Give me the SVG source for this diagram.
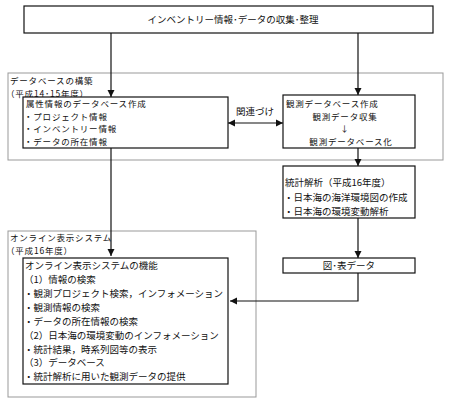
<svg xmlns="http://www.w3.org/2000/svg" width="450" height="401" viewBox="0 0 450 401">
<style>
text{font-family:"Noto Sans CJK JP","Liberation Serif",serif;font-size:9.5px;fill:#111}
.sm{font-size:8.5px;letter-spacing:0.8px}
.box{fill:#fff;stroke:#111;stroke-width:1.2}
.grp{fill:none;stroke:#999;stroke-width:1}
.con{fill:none;stroke:#111;stroke-width:1.2}
.mid{text-anchor:middle}
</style>
<defs>
<marker id="ah" markerWidth="8" markerHeight="8" refX="7" refY="4" orient="auto-start-reverse" markerUnits="userSpaceOnUse">
<path d="M0,0.5 L7,4 L0,7.5 Z" fill="#111"/>
</marker>
</defs>
<rect width="450" height="401" fill="#fff"/>
<g id="group-db">
<rect class="grp" x="8" y="73" width="435" height="87"/>
<text class="sm" x="10" y="84">データベースの構築</text>
<text class="sm" x="6" y="96.5">（平成14･15年度）</text>
</g>
<g id="group-online">
<rect class="grp" x="8" y="231" width="248" height="166"/>
<text class="sm" x="10" y="241">オンライン表示システム</text>
<text class="sm" x="6" y="253.5">（平成16年度）</text>
</g>
<g id="node-top">
<rect class="box" x="24" y="6" width="409" height="27"/>
<text class="mid" x="233" y="23">インベントリー情報･データの収集･整理</text>
</g>
<g id="node-attr">
<rect class="box" x="23" y="97" width="205" height="51"/>
<text class="sm" x="26" y="107">属性情報のデータベース作成</text>
<text class="sm" x="24" y="119.5">・プロジェクト情報</text>
<text class="sm" x="24" y="132">・インベントリー情報</text>
<text class="sm" x="24" y="144.5">・データの所在情報</text>
</g>
<g id="node-obs">
<rect class="box" x="283" y="95" width="132" height="53"/>
<text class="sm" x="286" y="107">観測データベース作成</text>
<text class="sm mid" x="345" y="119.5">観測データ収集</text>
<text class="sm mid" x="345" y="132">↓</text>
<text class="sm mid" x="351" y="144.5">観測データベース化</text>
</g>
<g id="node-stat">
<rect class="box" x="283" y="166" width="132" height="52"/>
<text x="285" y="185.5">統計解析（平成16年度）</text>
<text x="284" y="201">・日本海の海洋環境図の作成</text>
<text x="284" y="214.5">・日本海の環境変動解析</text>
</g>
<g id="node-fig">
<rect class="box" x="283" y="258" width="132" height="15"/>
<text class="mid" x="349" y="269">図･表データ</text>
</g>
<g id="node-func">
<rect class="box" x="23" y="258" width="205" height="126"/>
<text x="25" y="269">オンライン表示システムの機能</text>
<text x="24" y="283">（1）情報の検索</text>
<text x="24" y="297">・観測プロジェクト検索，インフォメーション</text>
<text x="24" y="311">・観測情報の検索</text>
<text x="24" y="325">・データの所在情報の検索</text>
<text x="24" y="339">（2）日本海の環境変動のインフォメーション</text>
<text x="24" y="352.5">・統計結果，時系列図等の表示</text>
<text x="24" y="366">（3）データベース</text>
<text x="24" y="380">・統計解析に用いた観測データの提供</text>
</g>
<g id="label-link">
<text class="mid" x="255" y="115">関連づけ</text>
</g>
<g id="connectors">
<line class="con" x1="111" y1="33" x2="111" y2="97" marker-end="url(#ah)"/>
<line class="con" x1="358" y1="33" x2="358" y2="95" marker-end="url(#ah)"/>
<line class="con" x1="228" y1="123" x2="283" y2="123" marker-start="url(#ah)" marker-end="url(#ah)"/>
<line class="con" x1="111" y1="148" x2="111" y2="256" marker-end="url(#ah)"/>
<line class="con" x1="358" y1="148" x2="358" y2="166" marker-end="url(#ah)"/>
<line class="con" x1="358" y1="218" x2="358" y2="258" marker-end="url(#ah)"/>
<polyline class="con" points="358,273 358,301 230,301" marker-end="url(#ah)"/>
</g>
</svg>
